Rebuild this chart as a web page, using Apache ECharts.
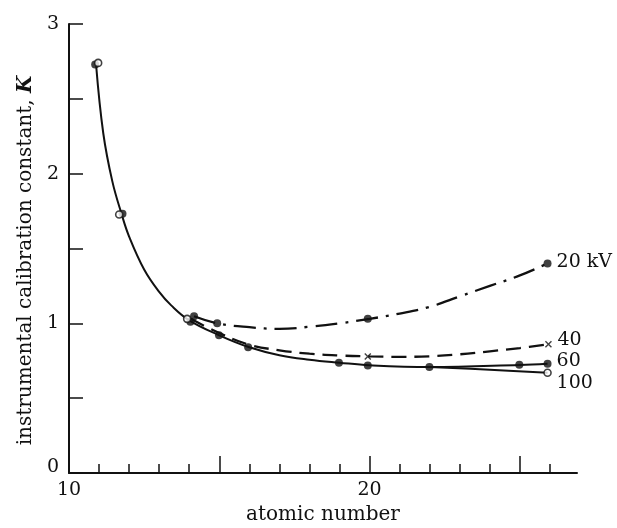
<!DOCTYPE html>
<html>
<head>
<meta charset="utf-8">
<script src="https://cdn.jsdelivr.net/npm/echarts@6/dist/echarts.min.js"></script>
<style>
  html, body { margin: 0; padding: 0; background: #ffffff; }
  #chart { width: 617px; height: 528px; }
</style>
</head>
<body>
<div id="chart"></div>
<script>
// Axis ticks and labels
const zMinorTicks = [11, 12, 13, 14, 16, 17, 18, 19, 21, 22, 23, 24, 26];
const zMajorTicks = [15, 20, 25];
const zTickLabels = [10, 20];
const kTicks = [0, 0.5, 1, 1.5, 2, 2.5, 3];
const kTickLabels = [0, 1, 2, 3];

// Curve traces: [atomic number, K]
const curve60 = [
  [10.9, 2.73], [11.14, 2.27], [11.44, 1.95], [11.75, 1.73], [12.0, 1.58],
  [12.5, 1.36], [13.0, 1.21], [13.4, 1.12], [14.0, 1.02], [15.0, 0.92],
  [16.0, 0.84], [17.0, 0.787], [18.0, 0.757], [19.0, 0.737], [20.0, 0.72],
  [22.0, 0.708], [25.0, 0.722], [25.92, 0.73]
];
const curve100 = [[22.0, 0.708], [24.0, 0.69], [25.92, 0.67]];
const curve40 = [
  [14.05, 1.03], [15.0, 0.935], [16.0, 0.857], [17.0, 0.82], [18.0, 0.797],
  [19.0, 0.785], [20.0, 0.779], [21.0, 0.776], [22.0, 0.78], [23.0, 0.793],
  [24.0, 0.813], [25.0, 0.835], [25.95, 0.86]
];
const curve20 = [
  [14.16, 1.047], [14.93, 1.0], [16.0, 0.974], [17.0, 0.963], [18.0, 0.977],
  [19.0, 1.0], [20.0, 1.03], [21.0, 1.065], [22.0, 1.11], [23.0, 1.18],
  [24.0, 1.25], [25.0, 1.32], [25.92, 1.4]
];

// Measured points: [atomic number, K]
const points20 = [[14.16, 1.047], [14.93, 1.0], [19.94, 1.03], [25.92, 1.4]];
const points40 = [[19.94, 0.779], [25.95, 0.86]];
const points60 = [
  [10.87, 2.73], [11.78, 1.733], [14.04, 1.01], [14.99, 0.92], [15.96, 0.84],
  [18.98, 0.737], [19.94, 0.719], [21.99, 0.708], [24.98, 0.724], [25.92, 0.73]
];
const points100 = [[10.97, 2.74], [11.67, 1.727], [13.93, 1.03], [25.92, 0.67]];

const voltageLabels = ['20 kV', '40', '60', '100'];

const INK = '#111111';
const SERIF = '"DejaVu Serif", "Liberation Serif", serif';
const CROSS = 'path://M0,1.4L1.4,0L5,3.6L8.6,0L10,1.4L6.4,5L10,8.6L8.6,10L5,6.4L1.4,10L0,8.6L3.6,5Z';

function traceSeries(data, type, width, label, dy) {
  return {
    type: 'line',
    data: data,
    smooth: 0.4,
    symbol: 'none',
    silent: true,
    z: 2,
    lineStyle: { color: INK, width: width, type: type, cap: 'butt' },
    endLabel: {
      show: true,
      formatter: label,
      distance: 9,
      offset: [0, dy],
      color: INK,
      fontFamily: SERIF,
      fontSize: 19
    }
  };
}

function pointSeries(data, symbol, size, style) {
  return {
    type: 'scatter',
    data: data,
    symbol: symbol,
    symbolSize: size,
    silent: true,
    z: 5,
    itemStyle: style
  };
}

const chart = echarts.init(document.getElementById('chart'), null, { renderer: 'canvas' });

chart.setOption({
  animation: false,
  backgroundColor: '#ffffff',
  grid: { left: 69, right: 40, top: 24, bottom: 55, containLabel: false, outerBoundsMode: 'none' },
  xAxis: [
    {
      type: 'value', min: 10, max: 26.9, position: 'bottom',
      splitLine: { show: false },
      axisLine: { show: true, lineStyle: { color: INK, width: 2 } },
      axisTick: { show: true, inside: true, length: 9, customValues: zMinorTicks,
                  lineStyle: { color: INK, width: 1.5 } },
      axisLabel: { show: true, customValues: zTickLabels, margin: 8,
                   color: INK, fontFamily: SERIF, fontSize: 19 },
      name: 'atomic number', nameLocation: 'middle', nameGap: 32,
      nameTextStyle: { color: INK, fontFamily: SERIF, fontSize: 20 }
    },
    {
      type: 'value', min: 10, max: 26.9, position: 'bottom',
      splitLine: { show: false },
      axisLine: { show: false },
      axisTick: { show: true, inside: true, length: 17, customValues: zMajorTicks,
                  lineStyle: { color: INK, width: 1.5 } },
      axisLabel: { show: false }
    }
  ],
  yAxis: {
    type: 'value', min: 0, max: 3,
    splitLine: { show: false },
    axisLine: { show: true, lineStyle: { color: INK, width: 2 } },
    axisTick: { show: true, inside: true, length: 14, customValues: kTicks,
                lineStyle: { color: INK, width: 1.5 } },
    axisLabel: {
      show: true, customValues: kTickLabels, margin: 10,
      color: INK, fontFamily: SERIF, fontSize: 19,
      formatter: function (v) { return v === 0 ? '{z|0}' : String(v); },
      rich: { z: { color: INK, fontFamily: SERIF, fontSize: 19, padding: [0, 0, 12, 0] } }
    },
    name: '{a|instrumental calibration constant, }{k|K}',
    nameLocation: 'middle', nameGap: 32, nameRotate: 90,
    nameTextStyle: {
      color: INK, fontFamily: SERIF, fontSize: 20,
      padding: [0, 24, 0, 0],
      rich: {
        a: { color: INK, fontFamily: SERIF, fontSize: 20 },
        k: { color: INK, fontFamily: SERIF, fontSize: 20, fontStyle: 'italic', fontWeight: 'bold' }
      }
    }
  },
  series: [
    traceSeries(curve60, 'solid', 2, voltageLabels[2], -3),
    traceSeries(curve100, 'solid', 2, voltageLabels[3], 10),
    traceSeries(curve40, [15, 8], 2.3, voltageLabels[1], -4),
    traceSeries(curve20, [22, 8, 3, 8], 2.3, voltageLabels[0], -1),
    pointSeries(points20, 'circle', 8, { color: INK }),
    pointSeries(points60, 'circle', 8, { color: INK }),
    pointSeries(points40, CROSS, 7, { color: INK }),
    pointSeries(points100, 'circle', 7, { color: '#ffffff', borderColor: INK, borderWidth: 1.6 })
  ]
});
</script>
</body>
</html>
